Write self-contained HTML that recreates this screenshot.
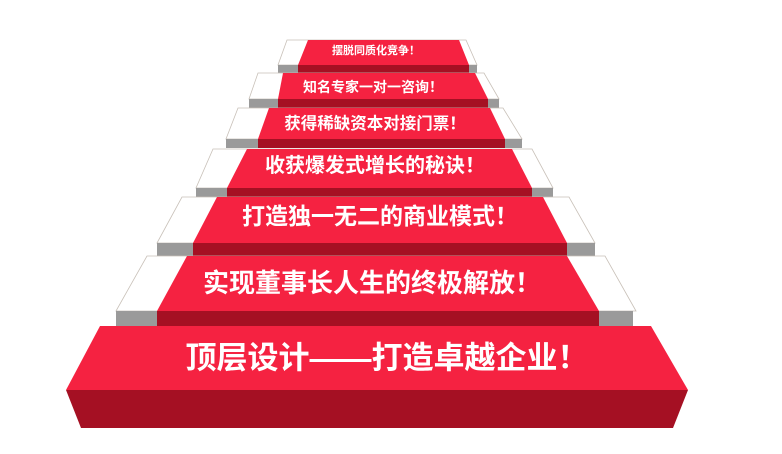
<!DOCTYPE html>
<html><head><meta charset="utf-8"><style>
html,body{margin:0;padding:0;background:#fff;}
svg{display:block}
text{font-family:"Liberation Sans","Noto Sans CJK SC",sans-serif;font-weight:bold;fill:#fff;text-anchor:middle;dominant-baseline:central}
</style></head><body>
<svg width="782" height="454" viewBox="0 0 782 454" xmlns="http://www.w3.org/2000/svg">
<defs><style>.w{fill:#fff;stroke:#c8c0b8;stroke-width:0.8}.g{fill:#9a9a9a}.r{fill:#f52241}.d{fill:#a51023}</style></defs>
<!-- Step 1 -->
<polygon class="w" points="287,40 466,40 477,65 278,65"/>
<polygon class="g" points="278,65 477,65 477,73 278,73"/>
<polygon class="r" points="308,40 459,40 469,65 298,65"/>
<polygon class="d" points="298,65 469,65 469,73 298,73"/>
<text x="376" y="51" font-size="11">摆脱同质化竞争！</text>
<!-- Step 2 -->
<polygon class="w" points="258,73 484,73 499,99 249,99"/>
<polygon class="g" points="249,99 499,99 499,108 249,108"/>
<polygon class="r" points="283,73 475,73 488,99 278,99"/>
<polygon class="d" points="278,99 488,99 488,108 278,108"/>
<text x="373" y="87" font-size="14">知名专家一对一咨询！</text>
<!-- Step 3 -->
<polygon class="w" points="238,108 503,108 522,139 226,139"/>
<polygon class="g" points="226,139 522,139 522,148 226,148"/>
<polygon class="r" points="269,108 490,108 505,139 258,139"/>
<polygon class="d" points="258,139 505,139 505,148 258,148"/>
<text x="375" y="124" font-size="16.5">获得稀缺资本对接门票！</text>
<!-- Step 4 -->
<polygon class="w" points="213,149 532,149 553,188 196,188"/>
<polygon class="g" points="196,188 553,188 553,197 196,197"/>
<polygon class="r" points="247,149 512,149 532,188 227,188"/>
<polygon class="d" points="227,188 532,188 532,197 227,197"/>
<text x="375" y="166" font-size="20">收获爆发式增长的秘诀！</text>
<!-- Step 5 -->
<polygon class="w" points="182,197 569,197 595,243 157,243"/>
<polygon class="g" points="157,243 595,243 595,256 157,256"/>
<polygon class="r" points="217,197 543,197 567,243 193,243"/>
<polygon class="d" points="193,243 567,243 567,256 193,256"/>
<text x="380" y="216" font-size="23">打造独一无二的商业模式！</text>
<!-- Step 6 -->
<polygon class="w" points="147,256 605,256 636,311 116,311"/>
<polygon class="g" points="116,311 633,311 633,326 116,326"/>
<polygon class="r" points="187,256 567,256 599,311 157,311"/>
<polygon class="d" points="157,311 599,311 599,326 157,326"/>
<text x="372" y="283" font-size="26">实现董事长人生的终极解放！</text>
<!-- Step 7 -->
<polygon class="r" points="100,326 651,326 688,390 66,390"/>
<polygon class="d" points="66,390 688,390 673,428 81,428"/>
<text x="387" y="358" font-size="31">顶层设计——打造卓越企业！</text>
</svg>
</body></html>
